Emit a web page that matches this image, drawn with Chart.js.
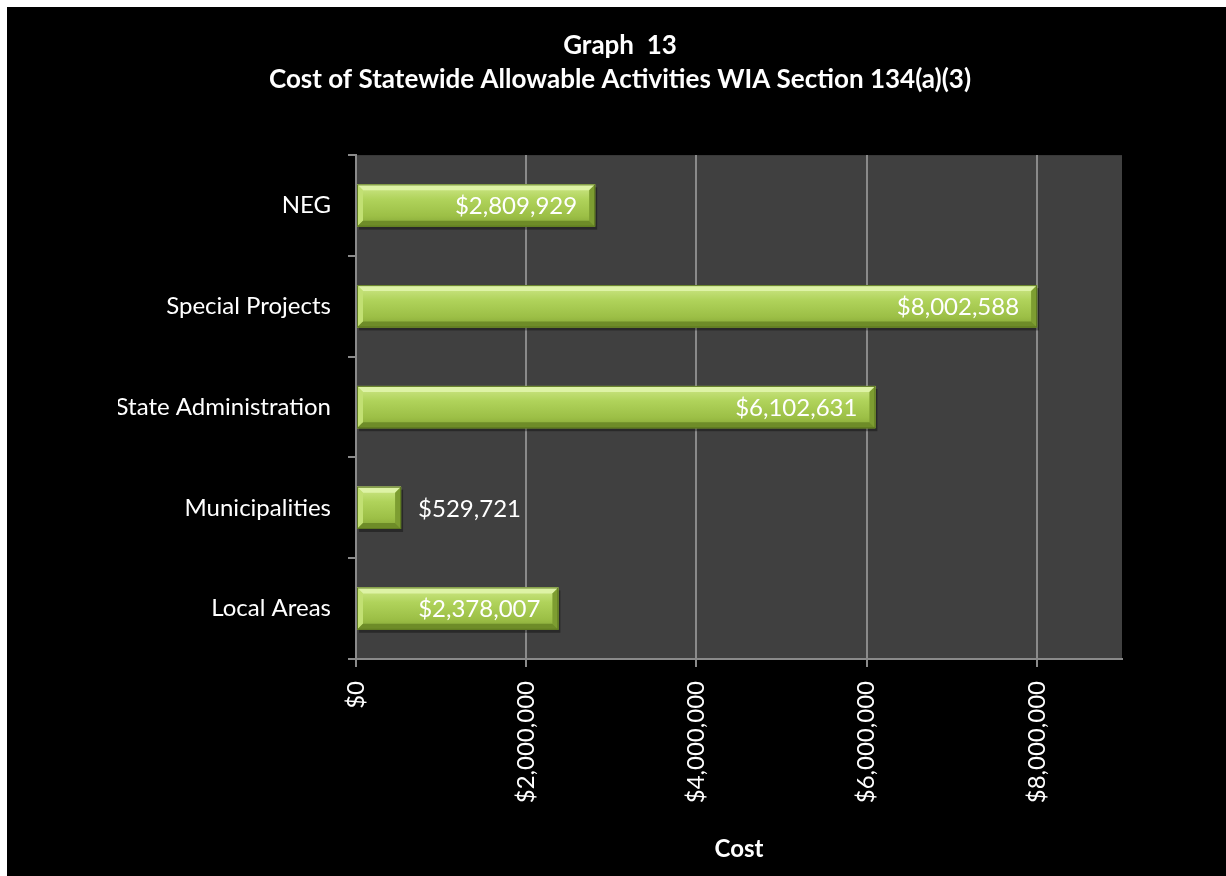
<!DOCTYPE html>
<html>
<head>
<meta charset="utf-8">
<title>Graph 13</title>
<script src="https://cdn.jsdelivr.net/npm/chart.js@4"></script>
<style>
  html, body { margin: 0; padding: 0; background: #fff; }
  #wrap { position: absolute; left: 0; top: 0; width: 1226px; height: 876px; }
</style>
</head>
<body>
<div id="wrap"><canvas id="chart"></canvas></div>
<script>
// Данные графика
const categories = ['NEG', 'Special Projects', 'State Administration', 'Municipalities', 'Local Areas'];
const costs = [2809929, 8002588, 6102631, 529721, 2378007];
const titleLines = ['Graph  13', 'Cost of Statewide Allowable Activities WIA Section 134(a)(3)'];
const axisTitle = 'Cost';

const GRID = '#8a8a8a';

function money(v) {
  return '$' + Math.round(v).toLocaleString('en-US');
}

// Фон: чёрная рамка и серая область графика
const backgroundPlugin = {
  id: 'bg',
  beforeDraw(chart) {
    const { ctx, chartArea: a } = chart;
    ctx.save();
    ctx.fillStyle = '#000';
    ctx.fillRect(7, 7, chart.width - 7, chart.height - 7);
    ctx.fillStyle = '#404040';
    ctx.fillRect(a.left, a.top, a.right - a.left, a.bottom - a.top);
    ctx.restore();
  }
};

// Объёмные (скошенные) столбцы поверх стандартной заливки
const bevelPlugin = {
  id: 'bevel',
  afterDatasetsDraw(chart) {
    const ctx = chart.ctx;
    const meta = chart.getDatasetMeta(0);
    meta.data.forEach(bar => {
      const l = Math.min(bar.base, bar.x), r = Math.max(bar.base, bar.x);
      const t = bar.y - bar.height / 2, b = bar.y + bar.height / 2;
      const bv = Math.min(6, (r - l) / 3);
      ctx.save();
      // тень
      ctx.fillStyle = 'rgba(0,0,0,0.35)';
      ctx.fillRect(l + 2, t + 3, r - l, b - t);
      // основная заливка
      const g = ctx.createLinearGradient(0, t, 0, b);
      g.addColorStop(0, '#cfe88a');
      g.addColorStop(0.35, '#b0d35b');
      g.addColorStop(0.75, '#9cbf46');
      g.addColorStop(1, '#84a536');
      ctx.fillStyle = g;
      ctx.fillRect(l, t, r - l, b - t);
      // верхняя фаска
      ctx.fillStyle = '#def3a6';
      ctx.beginPath();
      ctx.moveTo(l, t); ctx.lineTo(r, t); ctx.lineTo(r - bv, t + bv); ctx.lineTo(l + bv, t + bv);
      ctx.closePath(); ctx.fill();
      // левая фаска
      ctx.fillStyle = '#c2e073';
      ctx.beginPath();
      ctx.moveTo(l, t); ctx.lineTo(l + bv, t + bv); ctx.lineTo(l + bv, b - bv); ctx.lineTo(l, b);
      ctx.closePath(); ctx.fill();
      // правая фаска
      ctx.fillStyle = '#7d9d31';
      ctx.beginPath();
      ctx.moveTo(r, t); ctx.lineTo(r, b); ctx.lineTo(r - bv, b - bv); ctx.lineTo(r - bv, t + bv);
      ctx.closePath(); ctx.fill();
      // нижняя фаска
      ctx.fillStyle = '#6e8c28';
      ctx.beginPath();
      ctx.moveTo(l, b); ctx.lineTo(r, b); ctx.lineTo(r - bv, b - bv); ctx.lineTo(l + bv, b - bv);
      ctx.closePath(); ctx.fill();
      ctx.strokeStyle = '#5d7820';
      ctx.lineWidth = 1;
      ctx.strokeRect(l + 0.5, t + 0.5, r - l - 1, b - t - 1);
      ctx.restore();
    });
  }
};

// Подписи значений
const valueLabels = {
  id: 'valueLabels',
  afterDatasetsDraw(chart) {
    const ctx = chart.ctx;
    const meta = chart.getDatasetMeta(0);
    ctx.save();
    ctx.font = '24px Lato';
    ctx.fillStyle = '#fff';
    ctx.textBaseline = 'middle';
    meta.data.forEach((bar, i) => {
      const text = money(costs[i]);
      const w = ctx.measureText(text).width;
      const barW = bar.x - bar.base;
      if (w + 30 < barW) {
        ctx.textAlign = 'right';
        ctx.fillText(text, bar.x - 18, bar.y + 1);
      } else {
        ctx.textAlign = 'left';
        ctx.fillText(text, bar.x + 17, bar.y + 1);
      }
    });
    ctx.restore();
  }
};

Chart.defaults.font.family = 'Lato';
Chart.defaults.color = '#fff';

new Chart(document.getElementById('chart'), {
  type: 'bar',
  data: {
    labels: categories,
    datasets: [{
      label: axisTitle,
      data: costs,
      backgroundColor: '#a3c94a',
      borderWidth: 0,
      categoryPercentage: 1,
      barPercentage: 0.42
    }]
  },
  options: {
    indexAxis: 'y',
    responsive: true,
    maintainAspectRatio: false,
    animation: false,
    layout: { padding: { left: 118, right: 104, top: 0, bottom: 0 } },
    plugins: {
      legend: { display: false },
      tooltip: { enabled: false },
      title: {
        display: true,
        text: titleLines,
        color: '#fff',
        font: { size: 26, weight: 'bold', lineHeight: 1.31 },
        padding: { top: 29, bottom: 58 }
      }
    },
    scales: {
      x: {
        min: 0,
        max: 9000000,
        afterBuildTicks(axis) {
          axis.ticks = [0, 2, 4, 6, 8].map(v => ({ value: v * 1000000 }));
        },
        afterFit(scale) { scale.height = 217; },
        grid: { color: GRID, lineWidth: 2, tickLength: 8 },
        border: { display: true, color: GRID, width: 2 },
        ticks: {
          color: '#fff',
          font: { size: 24 },
          minRotation: 90,
          maxRotation: 90,
          padding: 14,
          callback: v => money(v)
        },
        title: {
          display: true,
          text: axisTitle,
          color: '#fff',
          font: { size: 24, weight: 'bold' },
          padding: { top: 0, bottom: 12 }
        }
      },
      y: {
        afterFit(scale) { scale.width = 238; },
        grid: { drawOnChartArea: false, drawTicks: true, tickLength: 8, color: GRID, lineWidth: 2 },
        border: { display: true, color: GRID, width: 2 },
        ticks: { color: '#fff', font: { size: 24 }, padding: 17 }
      }
    }
  },
  plugins: [backgroundPlugin, bevelPlugin, valueLabels]
});
</script>
</body>
</html>
